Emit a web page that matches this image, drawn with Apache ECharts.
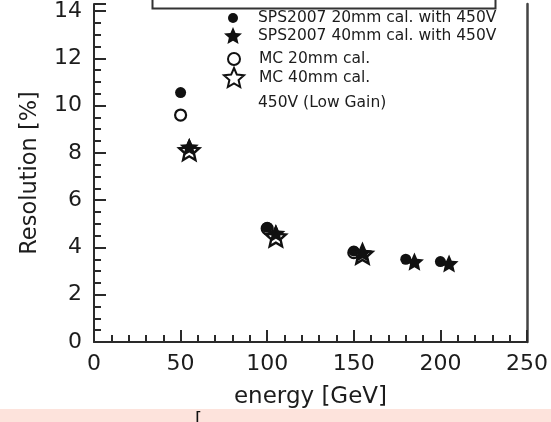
<!DOCTYPE html>
<html>
<head>
<meta charset="utf-8">
<script src="https://cdn.jsdelivr.net/npm/echarts@6/dist/echarts.min.js"></script>
<style>
  html, body { margin: 0; padding: 0; background: #ffffff; }
  #chart { width: 551px; height: 422px; }
</style>
</head>
<body>
<div id="chart"></div>
<script>
// ---- data ----
var spsE20 = [50, 100, 150, 180, 200];
var spsR20 = [10.55, 4.85, 3.85, 3.5, 3.4];
var spsE40 = [55, 105, 155, 185, 205];
var spsR40 = [8.25, 4.6, 3.78, 3.4, 3.32];
var mcE20 = [50, 100, 150];
var mcR20 = [9.6, 4.8, 3.78];
var mcE40 = [55, 105, 155];
var mcR40 = [8.1, 4.45, 3.72];
var seriesNames = ['SPS2007 20mm cal. with 450V', 'SPS2007 40mm cal. with 450V', 'MC 20mm cal.', 'MC 40mm cal.'];
var noteText = '450V (Low Gain)';
var xTicks = [0, 50, 100, 150, 200, 250];
var yTicks = [0, 2, 4, 6, 8, 10, 12, 14];

function pairs(xs, ys) { return xs.map(function (x, i) { return [x, ys[i]]; }); }

// star symbol shape
function starPath() {
  var pts = [], R = 50, r = 23;
  for (var i = 0; i < 10; i++) {
    var a = -Math.PI / 2 + i * Math.PI / 5;
    var rad = (i % 2 === 0) ? R : r;
    pts.push((50 + rad * Math.cos(a)).toFixed(2) + ',' + (50 + rad * Math.sin(a)).toFixed(2));
  }
  return 'path://M' + pts.join(' L') + ' Z';
}
var STAR = starPath();

var ink = '#1c1c1c';
var FONT = 'DejaVu Sans';
var chart = echarts.init(document.getElementById('chart'), null, { renderer: 'canvas' });

// one legend per row so each symbol keeps its own size; icon centred at x=233, text starting at x=258
function legendFor(name, rowY, size) {
  return {
    data: [name], left: 233 - size / 2, top: rowY - size / 2, orient: 'vertical', padding: 0,
    itemWidth: size, itemHeight: size, itemGap: 0,
    textStyle: { fontFamily: FONT, fontSize: 15.5, color: ink, padding: [0, 0, 0, 258 - (233 + size / 2 + 5)] },
    selectedMode: false
  };
}

chart.setOption({
  animation: false,
  backgroundColor: '#ffffff',
  grid: { left: 94, right: 23, top: 0, bottom: 80 },
  legend: [
    legendFor(seriesNames[0], 15, 10),
    legendFor(seriesNames[1], 36, 18),
    legendFor(seriesNames[2], 57, 12),
    legendFor(seriesNames[3], 77, 20)
  ],
  xAxis: {
    type: 'value', min: xTicks[0], max: xTicks[xTicks.length - 1], interval: 50,
    name: 'energy [GeV]', nameLocation: 'middle', nameGap: 44,
    nameTextStyle: { fontFamily: FONT, fontSize: 23, color: ink },
    axisLine: { show: true, lineStyle: { color: '#2a2a2a', width: 2 } },
    axisTick: { show: true, inside: true, length: 12, lineStyle: { color: '#2a2a2a', width: 2 } },
    minorTick: { show: true, splitNumber: 5, length: 7, lineStyle: { color: '#2a2a2a', width: 2 } },
    splitLine: { show: false },
    axisLabel: { margin: 11, fontFamily: FONT, fontSize: 22, color: ink }
  },
  yAxis: [{
    type: 'value', min: 0, max: 14.3, interval: 2,
    name: 'Resolution [%]', nameLocation: 'middle', nameGap: 52,
    nameTextStyle: { fontFamily: FONT, fontSize: 22.5, color: ink },
    axisLine: { show: true, lineStyle: { color: '#2a2a2a', width: 2 } },
    axisTick: { show: true, inside: true, length: 12, lineStyle: { color: '#2a2a2a', width: 2 } },
    minorTick: { show: true, splitNumber: 4, length: 7, lineStyle: { color: '#2a2a2a', width: 2 } },
    splitLine: { show: false },
    axisLabel: {
      margin: 12, fontFamily: FONT, fontSize: 22, color: ink,
      formatter: function (v) { return yTicks.indexOf(v) >= 0 ? String(v) : ''; }
    }
  }, {
    type: 'value', min: 0, max: 14.3, position: 'right',
    axisLine: { show: true, onZero: false, lineStyle: { color: '#444', width: 2.5 } },
    axisTick: { show: false }, axisLabel: { show: false }, splitLine: { show: false }
  }],
  graphic: [
    { type: 'rect', left: 150, top: -20, shape: { width: 343, height: 26 },
      style: { fill: 'none', stroke: '#333', lineWidth: 2 }, silent: true },
    { type: 'text', left: 258, top: 95, style: { text: noteText, font: '15.5px "DejaVu Sans"', fill: ink } },
    { type: 'rect', left: 0, top: 409, shape: { width: 551, height: 13 }, style: { fill: '#fde3dc' }, silent: true },
    { type: 'text', left: 195, top: 411, style: { text: '[', font: '18px "DejaVu Sans"', fill: '#111' } }
  ],
  series: [
    {
      name: seriesNames[2], type: 'scatter', data: pairs(mcE20, mcR20),
      symbol: 'circle', symbolSize: 11, z: 2,
      itemStyle: { color: 'rgba(255,255,255,0)', borderColor: '#111', borderWidth: 2.2, opacity: 1 }
    },
    {
      name: seriesNames[0], type: 'scatter', data: pairs(spsE20, spsR20),
      symbol: 'circle', symbolSize: 11, z: 3,
      itemStyle: { color: '#111', opacity: 1 }
    },
    {
      name: seriesNames[1], type: 'scatter', data: pairs(spsE40, spsR40),
      symbol: STAR, symbolSize: 19, symbolKeepAspect: true, z: 3,
      itemStyle: { color: '#111', opacity: 1 }
    },
    {
      name: seriesNames[3], type: 'scatter', data: pairs(mcE40, mcR40),
      symbol: STAR, symbolSize: 20, symbolKeepAspect: true, z: 4,
      itemStyle: { color: 'rgba(255,255,255,0)', borderColor: '#111', borderWidth: 2.4, opacity: 1 }
    }
  ]
});
</script>
</body>
</html>
